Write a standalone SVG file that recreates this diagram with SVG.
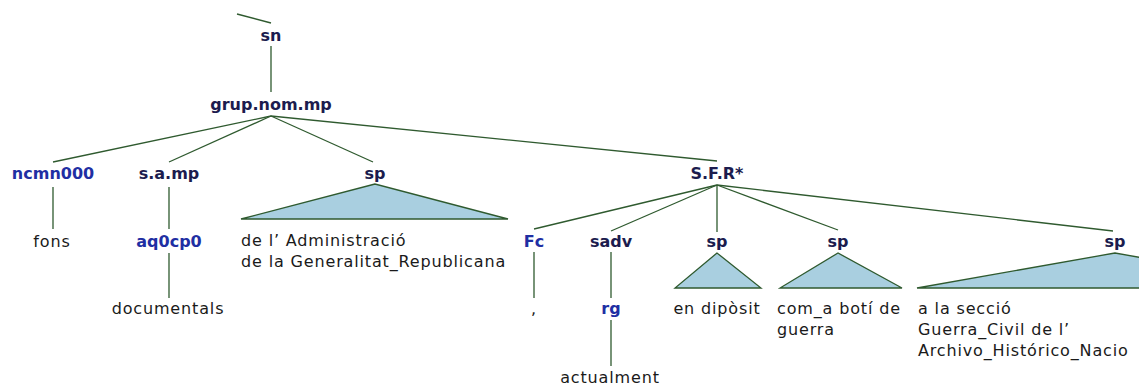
<svg xmlns="http://www.w3.org/2000/svg" width="1139" height="385" viewBox="0 0 1139 385">
<style>
.c{stroke:#2f5a2f;stroke-width:1.3;fill:none}
.t{stroke:#2f5a2f;stroke-width:1.3;fill:#a9cfe0}
.lb{font-family:"DejaVu Sans",sans-serif;font-weight:bold;font-size:16px;fill:#1c1c4e;text-anchor:middle}
.lp{font-family:"DejaVu Sans",sans-serif;font-weight:bold;font-size:16px;fill:#1f2fa3;text-anchor:middle}
.w{font-family:"DejaVu Sans",sans-serif;font-size:16px;fill:#1a1a1a;letter-spacing:0.85px}
.m{text-anchor:middle}
</style>
<rect width="1139" height="385" fill="#fff"/>
<g id="connectors">
<line class="c" x1="237" y1="14" x2="271" y2="23"/>
<line class="c" x1="271" y1="46" x2="271" y2="92"/>
<line class="c" x1="271" y1="116" x2="53" y2="162"/>
<line class="c" x1="271" y1="116" x2="169" y2="162"/>
<line class="c" x1="271" y1="116" x2="373" y2="162"/>
<line class="c" x1="271" y1="116" x2="717" y2="161"/>
<line class="c" x1="53" y1="187" x2="53" y2="229"/>
<line class="c" x1="169" y1="187" x2="169" y2="229"/>
<line class="c" x1="169" y1="253" x2="169" y2="298"/>
<line class="c" x1="717" y1="185" x2="534" y2="229"/>
<line class="c" x1="717" y1="185" x2="611" y2="231"/>
<line class="c" x1="717" y1="185" x2="717" y2="232"/>
<line class="c" x1="717" y1="185" x2="838" y2="230"/>
<line class="c" x1="717" y1="185" x2="1113" y2="231"/>
<line class="c" x1="534" y1="252" x2="534" y2="298"/>
<line class="c" x1="611" y1="252" x2="611" y2="298"/>
<line class="c" x1="611" y1="320" x2="611" y2="366"/>
</g>
<g id="n-sn"><text class="lb" x="271" y="41">sn</text></g>
<g id="n-grup"><text class="lb" x="271" y="110">grup.nom.mp</text></g>
<g id="n-ncmn000"><text class="lp" x="53" y="179">ncmn000</text></g>
<g id="n-fons"><text class="w m" x="52" y="247">fons</text></g>
<g id="n-samp"><text class="lb" x="169" y="179">s.a.mp</text></g>
<g id="n-aq0cp0"><text class="lp" x="169" y="247">aq0cp0</text></g>
<g id="n-documentals"><text class="w m" x="168" y="314">documentals</text></g>
<g id="n-sp1"><text class="lb" x="375" y="179">sp</text>
<polygon class="t" points="375,184 241,219 508,219"/>
<text class="w" x="241" y="246">de l’ Administració</text>
<text class="w" x="241" y="267">de la Generalitat_Republicana</text></g>
<g id="n-sfr"><text class="lb" x="717" y="179">S.F.R*</text></g>
<g id="n-fc"><text class="lp" x="534" y="247">Fc</text></g>
<g id="n-comma"><text class="w m" x="534" y="314">,</text></g>
<g id="n-sadv"><text class="lb" x="611" y="247">sadv</text></g>
<g id="n-rg"><text class="lp" x="611" y="314">rg</text></g>
<g id="n-actualment"><text class="w m" x="610" y="383">actualment</text></g>
<g id="n-sp2"><text class="lb" x="717" y="247">sp</text>
<polygon class="t" points="717,253 675,288 761,288"/>
<text class="w m" x="717" y="314">en dipòsit</text></g>
<g id="n-sp3"><text class="lb" x="838" y="247">sp</text>
<polygon class="t" points="838,253 780,288 902,288"/>
<text class="w" x="777" y="314">com_a botí de</text>
<text class="w" x="777" y="335">guerra</text></g>
<g id="n-sp4"><text class="lb" x="1115" y="247">sp</text>
<polygon class="t" points="1115,253 917,288 1313,288"/>
<text class="w" x="918" y="314">a la secció</text>
<text class="w" x="918" y="335">Guerra_Civil de l’</text>
<text class="w" x="918" y="356">Archivo_Histórico_Nacio</text></g>
</svg>
